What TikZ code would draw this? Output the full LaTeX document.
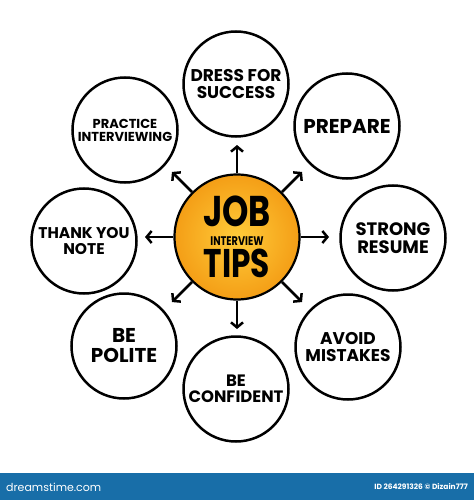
\documentclass[tikz,border=0pt]{standalone}
\usepackage{fontspec}
\setmainfont{Poppins}
\newfontfamily\hubfont{Poppins}[FakeStretch=0.78]
\usetikzlibrary{arrows.meta,calc}
\definecolor{hubout}{RGB}{244,158,22}
\definecolor{hubin}{RGB}{255,204,58}
\definecolor{barblue}{RGB}{24,110,168}
\newcommand{\tfs}[1]{\bfseries\fontsize{#1}{#1}\selectfont}
\begin{document}
\begin{tikzpicture}[x=1pt,y=-1pt,
  topic/.style={circle,draw=black,line width=2.5pt,minimum size=105pt,inner sep=0pt,
    align=center,font=\tfs{17}},
  hub/.style={circle,draw=black,line width=2.2pt,minimum size=125pt,inner sep=0pt,
    shading=radial,inner color=hubin,outer color=hubout,align=center,
    font=\hubfont\bfseries\fontsize{12.5}{19}\selectfont},
  ray/.style={line width=2.5pt,-{Straight Barb[length=5pt,width=12pt]}}
]
\useasboundingbox (0,0) rectangle (474,500);
\fill[white] (0,0) rectangle (474,500);

% hub
\node[hub] (hub) at (237,237)
  {{\fontsize{43}{19}\selectfont JOB}\\INTERVIEW\\[3pt]{\fontsize{40}{19}\selectfont TIPS}};

% topics
\node[topic] (dress)     at (236,84)  {DRESS FOR\\SUCCESS};
\node[topic,font=\tfs{20}] (prepare)   at (347,126) {PREPARE};
\node[topic,font=\tfs{18}] (resume)    at (393,238) {STRONG\\RESUME};
\node[topic,font=\tfs{17}] (avoid)     at (348,347) {AVOID\\MISTAKES};
\node[topic,font=\tfs{16.5}] (confident) at (236,389) {BE\\CONFIDENT};
\node[topic,font=\tfs{20}] (polite)    at (124,346) {BE\\POLITE};
\node[topic,font=\tfs{15.5}] (thank)     at (84,241)  {THANK YOU\\NOTE};
\node[topic,font=\tfs{13}] (practice)  at (125,130) {PRACTICE\\INTERVIEWING};

% arrow ends
\foreach \a/\n in {90/dress,45/prepare,0/resume,-45/avoid,-90/confident,-135/polite,180/thank,135/practice}{
  \coordinate (end-\n) at ($(hub.center)+(\a:92pt)$);
  \draw[ray] (hub.\a) -- (end-\n);
}

% bottom bar
\fill[barblue] (0,473) rectangle (474,500);
\node[anchor=west,text=white,inner sep=0pt,font=\fontsize{11}{11}\selectfont] (brand) at (6,487) {dreamstime.com};
\node[anchor=east,text=white,inner sep=0pt,font=\bfseries\fontsize{7.5}{8}\selectfont] (credit) at (468,487) {ID 264291326 © Dizain777};
\end{tikzpicture}
\end{document}
